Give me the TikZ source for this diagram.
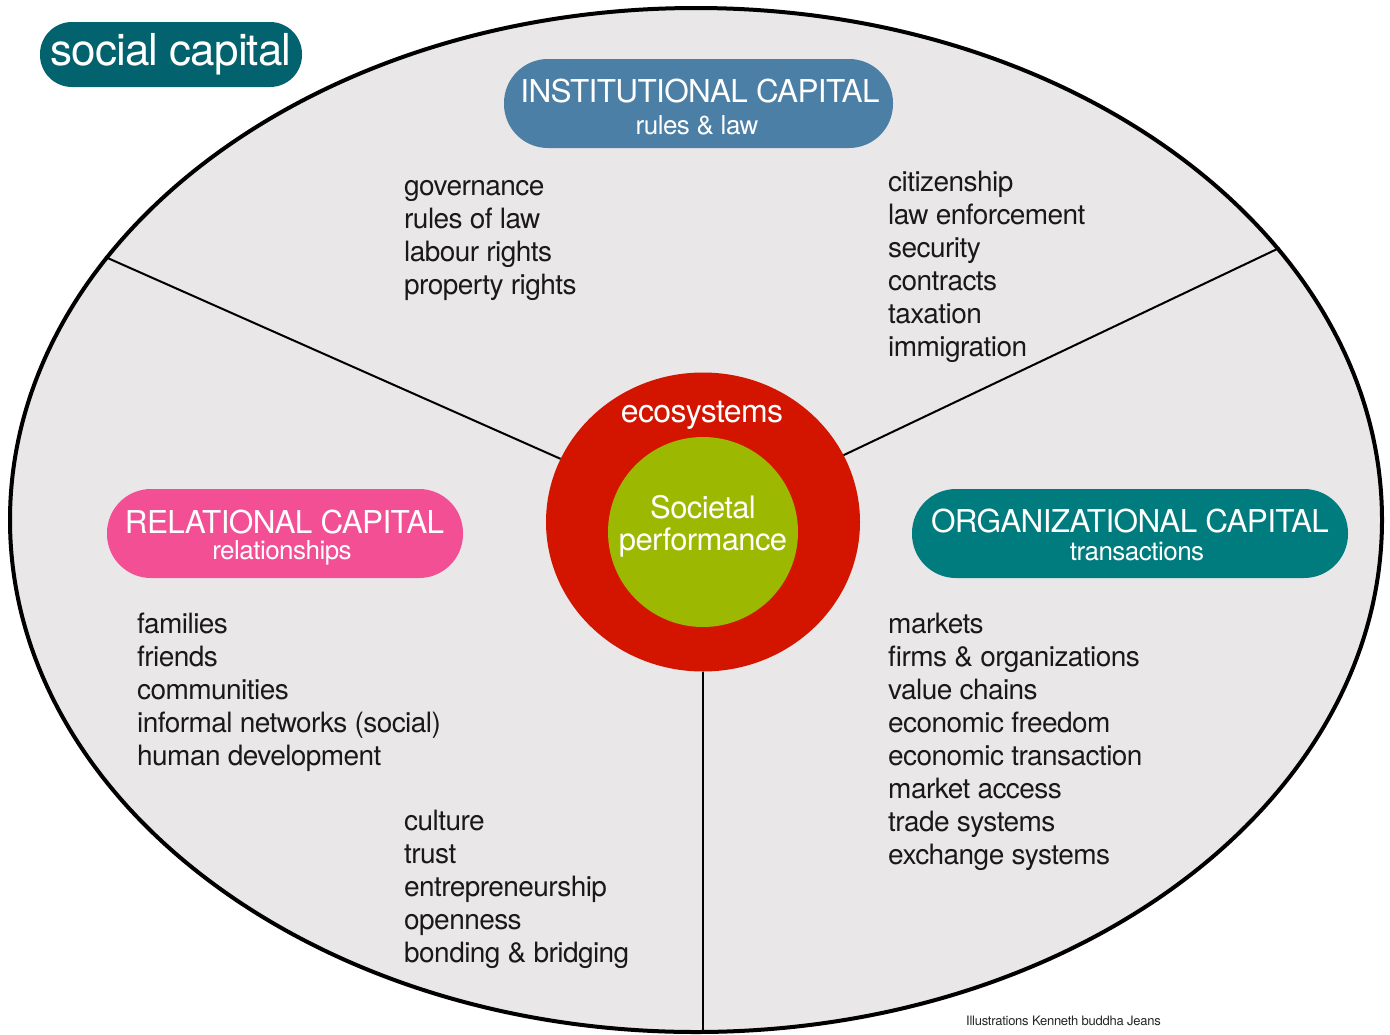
\documentclass[tikz,border=0pt]{standalone}
\usepackage{fontspec}
\setmainfont{TeX Gyre Heros}[LetterSpace=-2]
\usepackage{tikz}
\usetikzlibrary{shapes}

\definecolor{framegray}{HTML}{E9E7E8}
\definecolor{socialteal}{HTML}{02636F}
\definecolor{instblue}{HTML}{4B7FA5}
\definecolor{relpink}{HTML}{F34F95}
\definecolor{orgteal}{HTML}{007C7E}
\definecolor{ecored}{HTML}{D31500}
\definecolor{perfgreen}{HTML}{9CB800}

\begin{document}
\begin{tikzpicture}[x=1pt, y=-1pt,
    pill/.style={rectangle, rounded corners=44pt, minimum height=89pt, inner sep=0},
    captitle/.style={anchor=base, text=white, font=\fontsize{31.5}{36}\selectfont},
    capsub/.style={anchor=base, text=white, font=\fontsize{26}{30}\selectfont},
    items/.style={anchor=north west, align=left, inner sep=0, text=black!90, font=\fontsize{28}{33}\selectfont},
    divider/.style={line width=2pt}]

    % 1. Define the outer frame (white page, grey ellipse)
    \useasboundingbox[fill=white] (0,0) rectangle (1390,1034);
    \node[ellipse, draw, line width=4pt, fill=framegray, minimum width=1372pt, minimum height=1024pt, inner sep=0] (frame) at (696,520) {};

    % 2. Core rings in the middle
    \node[ellipse, fill=ecored, minimum width=314pt, minimum height=299pt, inner sep=0] (eco) at (703,522) {};
    \node[circle, fill=perfgreen, minimum size=190pt, inner sep=0] (perf) at (703,532) {};

    % 3. Dividers between the three sectors
    \draw[divider] (eco) -- (frame.156);
    \draw[divider] (eco) -- (frame.25);
    \draw[divider] (eco.south) -- (eco.south |- frame.south);

    % Labels on the rings
    \node[anchor=base, text=white, font=\fontsize{32}{36}\selectfont] (eco-text) at (702,422) {ecosystems};
    \node[align=center, text=white, font=\fontsize{31}{32}\selectfont] (perf-text) at ([yshift=6pt]perf.center) {Societal\\performance};

    % 4. Pills with the capital names
    \node[pill, fill=socialteal, rounded corners=32pt, minimum width=262pt, minimum height=65pt, text=white, font=\fontsize{44}{50}\selectfont] (social) at (171,54.5) {social capital};

    \node[pill, fill=instblue, minimum width=389pt] (inst) at (698.5,103.5) {};
    \node[captitle] (inst-title) at (700,102) {INSTITUTIONAL CAPITAL};
    \node[capsub] (inst-sub) at (697,134) {rules \& law};

    \node[pill, fill=relpink, minimum width=356pt] (rel) at (285,533.5) {};
    \node[captitle] (rel-title) at (284.5,533) {RELATIONAL CAPITAL};
    \node[capsub] (rel-sub) at (282,559) {relationships};

    \node[pill, fill=orgteal, minimum width=436pt] (org) at (1130,533.5) {};
    \node[captitle] (org-title) at (1130,532) {ORGANIZATIONAL CAPITAL};
    \node[capsub] (org-sub) at (1137,560) {transactions};

    % 5. Item lists (strut fixes the top of the first line)
    \node[items] (inst-left) at (404,172) {\strut governance\\rules of law\\labour rights\\property rights};
    \node[items] (inst-right) at (888,168.5) {\strut citizenship\\law enforcement\\security\\contracts\\taxation\\immigration};
    \node[items] (rel-list) at (137,610) {\strut families\\friends\\communities\\informal networks (social)\\human development};
    \node[items] (rel-values) at (404,807) {\strut culture\\trust\\entrepreneurship\\openness\\bonding \& bridging};
    \node[items] (org-list) at (888,610) {\strut markets\\firms \& organizations\\value chains\\economic freedom\\economic transaction\\market access\\trade systems\\exchange systems};

    % credit line
    \node[anchor=base west, inner sep=0, text=black!85, font=\fontsize{13}{15}\selectfont] (credit) at (966,1025) {Illustrations Kenneth buddha Jeans};

\end{tikzpicture}
\end{document}
